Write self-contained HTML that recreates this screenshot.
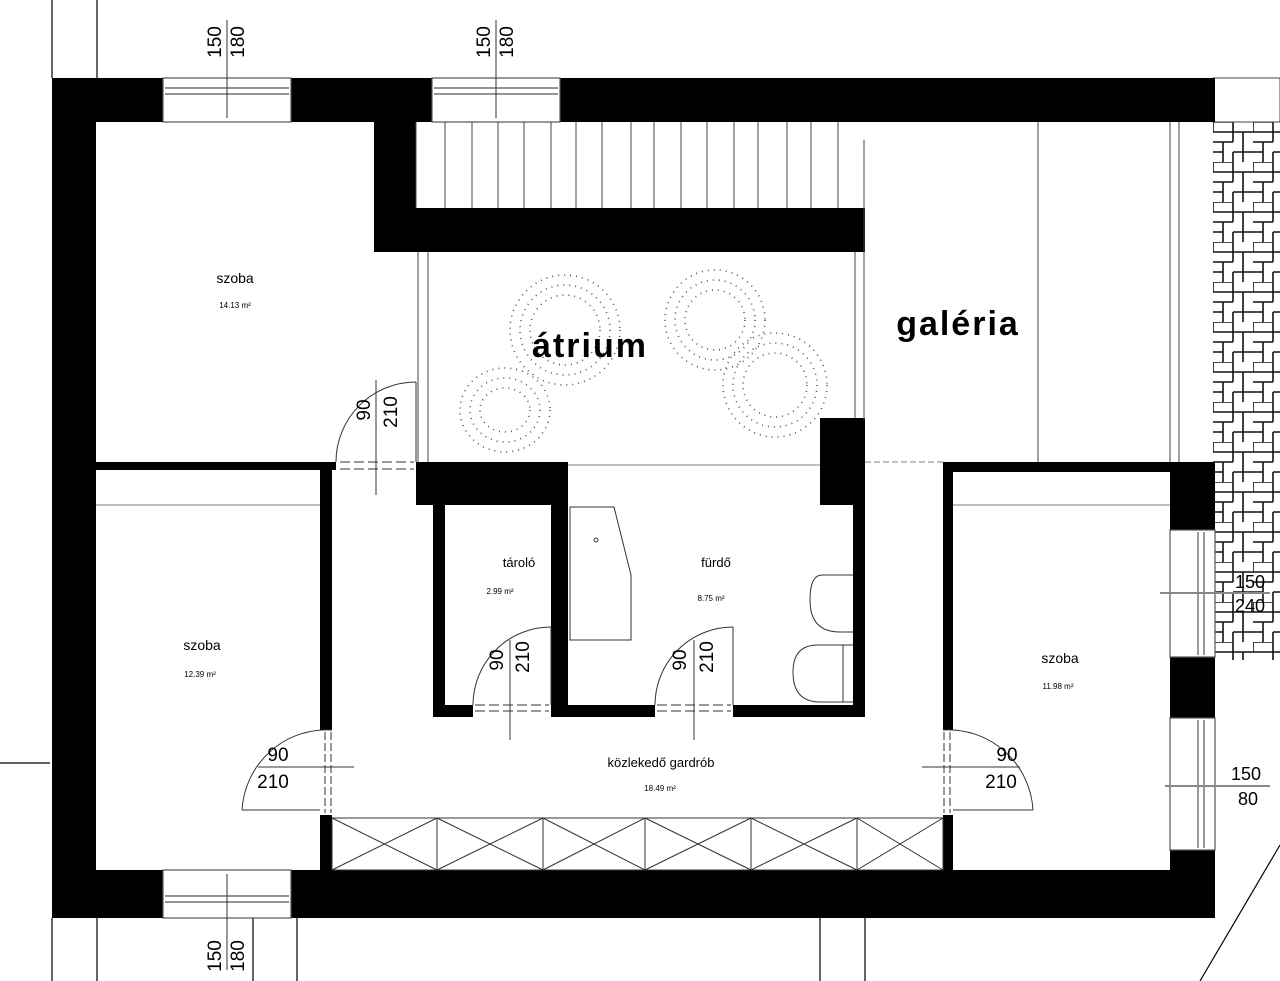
<!DOCTYPE html>
<html><head><meta charset="utf-8"><style>
html,body{margin:0;padding:0;background:#fff;}
svg{display:block;}
text{font-family:"Liberation Sans",sans-serif;fill:#000;}
</style></head><body>
<svg width="1280" height="981" viewBox="0 0 1280 981" xmlns="http://www.w3.org/2000/svg">
<defs>
<pattern id="brick" x="1213" y="122" width="40" height="40" patternUnits="userSpaceOnUse">
<rect width="40" height="40" fill="#fff"/>
<path d="M0 0H20V10H0ZM20 0V20M20 10H40M30 10V30H40M0 20H20M10 20V40M20 30H30M0 30H10M20 30V40M30 30V40" fill="none" stroke="#111" stroke-width="1.6"/>
</pattern>
</defs>
<g stroke="#000" stroke-width="1.2" fill="none">
<line x1="52" y1="0" x2="52" y2="78"/><line x1="97" y1="0" x2="97" y2="78"/>
<line x1="52" y1="918" x2="52" y2="981"/><line x1="97" y1="918" x2="97" y2="981"/>
<line x1="253" y1="918" x2="253" y2="981"/><line x1="297" y1="918" x2="297" y2="981"/>
<line x1="820" y1="918" x2="820" y2="981"/><line x1="865" y1="918" x2="865" y2="981"/>
<line x1="1280" y1="845" x2="1200" y2="981"/>
<line x1="0" y1="763" x2="50" y2="763"/>
</g>
<rect x="1213" y="122" width="67" height="538" fill="url(#brick)"/>
<rect x="1213" y="78" width="67" height="44" fill="#fff" stroke="#444" stroke-width="1"/>
<g fill="#000">
<rect x="52" y="78" width="44" height="840"/>
<rect x="52" y="78" width="111" height="44"/>
<rect x="291" y="78" width="141" height="44"/>
<rect x="560" y="78" width="655" height="44"/>
<rect x="374" y="122" width="42" height="130"/>
<rect x="374" y="208" width="491" height="44"/>
<rect x="820" y="418" width="45" height="87"/>
<rect x="96" y="462" width="240" height="8"/>
<rect x="416" y="462" width="152" height="43"/>
<rect x="320" y="470" width="12" height="260"/>
<rect x="320" y="815" width="12" height="55"/>
<rect x="433" y="505" width="12" height="212"/>
<rect x="551" y="505" width="17" height="212"/>
<rect x="853" y="505" width="12" height="212"/>
<rect x="433" y="705" width="40" height="12"/>
<rect x="551" y="705" width="104" height="12"/>
<rect x="733" y="705" width="132" height="12"/>
<rect x="943" y="462" width="272" height="10"/>
<rect x="943" y="462" width="10" height="268"/>
<rect x="943" y="815" width="10" height="55"/>
<rect x="1170" y="462" width="45" height="68"/>
<rect x="1170" y="657" width="45" height="61"/>
<rect x="1170" y="850" width="45" height="68"/>
<rect x="52" y="870" width="111" height="48"/>
<rect x="291" y="870" width="924" height="48"/>
</g>
<g stroke="#555" stroke-width="1.2" fill="#fff">
<rect x="163" y="78" width="128" height="44"/>
<line x1="165" y1="88" x2="289" y2="88"/><line x1="165" y1="94" x2="289" y2="94"/>
<rect x="432" y="78" width="128" height="44"/>
<line x1="434" y1="88" x2="558" y2="88"/><line x1="434" y1="94" x2="558" y2="94"/>
<rect x="163" y="870" width="128" height="48"/>
<line x1="165" y1="896" x2="289" y2="896"/><line x1="165" y1="902" x2="289" y2="902"/>
<rect x="1170" y="530" width="45" height="127"/>
<line x1="1198" y1="532" x2="1198" y2="655"/><line x1="1204" y1="532" x2="1204" y2="655"/>
<rect x="1170" y="718" width="45" height="132"/>
<line x1="1198" y1="720" x2="1198" y2="848"/><line x1="1204" y1="720" x2="1204" y2="848"/>
</g>
<g stroke="#333" stroke-width="1">
<line x1="227" y1="20" x2="227" y2="118"/><line x1="496" y1="20" x2="496" y2="118"/>
<line x1="227" y1="874" x2="227" y2="970"/>
</g>
<g stroke="#444" stroke-width="1">
<line x1="416" y1="122" x2="416" y2="208"/>
<line x1="445" y1="122" x2="445" y2="208"/><line x1="472" y1="122" x2="472" y2="208"/><line x1="498" y1="122" x2="498" y2="208"/><line x1="524" y1="122" x2="524" y2="208"/><line x1="551" y1="122" x2="551" y2="208"/><line x1="576" y1="122" x2="576" y2="208"/><line x1="602" y1="122" x2="602" y2="208"/><line x1="631" y1="122" x2="631" y2="208"/><line x1="654" y1="122" x2="654" y2="208"/><line x1="681" y1="122" x2="681" y2="208"/><line x1="707" y1="122" x2="707" y2="208"/><line x1="734" y1="122" x2="734" y2="208"/><line x1="758" y1="122" x2="758" y2="208"/><line x1="787" y1="122" x2="787" y2="208"/><line x1="811" y1="122" x2="811" y2="208"/><line x1="838" y1="122" x2="838" y2="208"/>
<line x1="864" y1="140" x2="864" y2="420"/>
<line x1="418" y1="252" x2="418" y2="462"/><line x1="428" y1="252" x2="428" y2="462"/>
<line x1="855" y1="252" x2="855" y2="418"/>
<line x1="1038" y1="122" x2="1038" y2="462"/>
<line x1="1170" y1="122" x2="1170" y2="462"/><line x1="1179" y1="122" x2="1179" y2="462"/>
</g>
<g stroke="#aaa" stroke-width="1.5">
<line x1="96" y1="505" x2="320" y2="505"/><line x1="865" y1="462" x2="943" y2="462" stroke-dasharray="6 3"/>
<line x1="568" y1="465" x2="820" y2="465"/>
<line x1="953" y1="505" x2="1170" y2="505"/>
</g>
<g fill="none" stroke="#555" stroke-width="1.6" stroke-dasharray="1 5">
<ellipse cx="505" cy="410" rx="45" ry="42"/><ellipse cx="505" cy="410" rx="35" ry="32"/><ellipse cx="505" cy="410" rx="25" ry="22"/>
<ellipse cx="565" cy="330" rx="55" ry="55"/><ellipse cx="565" cy="330" rx="45" ry="45"/><ellipse cx="565" cy="330" rx="35" ry="35"/>
<ellipse cx="715" cy="320" rx="50" ry="50"/><ellipse cx="715" cy="320" rx="40" ry="40"/><ellipse cx="715" cy="320" rx="30" ry="30"/>
<ellipse cx="775" cy="385" rx="52" ry="52"/><ellipse cx="775" cy="385" rx="42" ry="42"/><ellipse cx="775" cy="385" rx="32" ry="32"/>
</g>
<g fill="none" stroke="#333" stroke-width="1">
<path d="M336 462 A80 80 0 0 1 416 382"/><line x1="416" y1="382" x2="416" y2="462"/>
<line x1="376" y1="380" x2="376" y2="495"/>
<line x1="340" y1="462" x2="414" y2="462" stroke-dasharray="10 4"/><line x1="340" y1="469" x2="414" y2="469" stroke-dasharray="10 4"/>
<path d="M473 705 A78 78 0 0 1 551 627"/><line x1="551" y1="627" x2="551" y2="705"/><line x1="510" y1="640" x2="510" y2="740"/>
<line x1="475" y1="705" x2="549" y2="705" stroke-dasharray="10 4"/><line x1="475" y1="711" x2="549" y2="711" stroke-dasharray="10 4"/>
<path d="M655 705 A78 78 0 0 1 733 627"/><line x1="733" y1="627" x2="733" y2="705"/><line x1="694" y1="640" x2="694" y2="740"/>
<line x1="657" y1="705" x2="731" y2="705" stroke-dasharray="10 4"/><line x1="657" y1="711" x2="731" y2="711" stroke-dasharray="10 4"/>
<path d="M332 730 A85 85 0 0 0 242 810"/><line x1="242" y1="810" x2="320" y2="810"/>
<line x1="325" y1="732" x2="325" y2="813" stroke-dasharray="8 3"/><line x1="331" y1="732" x2="331" y2="813" stroke-dasharray="8 3"/>
<line x1="258" y1="767" x2="354" y2="767"/>
<path d="M943 730 A85 85 0 0 1 1033 810"/><line x1="953" y1="810" x2="1033" y2="810"/>
<line x1="944" y1="732" x2="944" y2="813" stroke-dasharray="8 3"/><line x1="950" y1="732" x2="950" y2="813" stroke-dasharray="8 3"/>
<line x1="922" y1="767" x2="1020" y2="767"/>
<line x1="1160" y1="593" x2="1270" y2="593" stroke="#888" stroke-width="2"/>
<line x1="1165" y1="786" x2="1270" y2="786" stroke="#888" stroke-width="2"/>
<path d="M570 507 L614 507 L631 575 L631 640 L570 640 Z"/>
<circle cx="596" cy="540" r="2"/>
<path d="M853 575 L822 575 Q810 575 810 600 Q810 632 840 632 L853 632"/>
<path d="M853 645 L818 645 Q793 645 793 672 Q793 702 820 702 L853 702"/>
<line x1="843" y1="645" x2="843" y2="702"/>
<rect x="332" y="818" width="611" height="52"/>
<path d="M437 818V870M543 818V870M645 818V870M751 818V870M857 818V870"/>
<path d="M332 818L437 870M437 818L332 870M437 818L543 870M543 818L437 870M543 818L645 870M645 818L543 870M645 818L751 870M751 818L645 870M751 818L857 870M857 818L751 870M857 818L943 870M943 818L857 870"/>
</g>
<g text-anchor="middle">
<text x="235" y="283" font-size="14">szoba</text>
<text x="235" y="308" font-size="8">14.13 m²</text>
<text x="590" y="357" font-size="34" font-weight="bold" letter-spacing="2">átrium</text>
<text x="958" y="335" font-size="34" font-weight="bold" letter-spacing="2">galéria</text>
<text x="519" y="567" font-size="13">tároló</text>
<text x="500" y="594" font-size="8">2.99 m²</text>
<text x="716" y="567" font-size="13">fürdő</text>
<text x="711" y="601" font-size="8">8.75 m²</text>
<text x="202" y="650" font-size="14">szoba</text>
<text x="200" y="677" font-size="8">12.39 m²</text>
<text x="1060" y="663" font-size="14">szoba</text>
<text x="1058" y="689" font-size="8">11.98 m²</text>
<text x="661" y="767" font-size="13">közlekedő gardrób</text>
<text x="660" y="791" font-size="8">18.49 m²</text>
<text x="278" y="761" font-size="19">90</text>
<text x="273" y="788" font-size="19">210</text>
<text x="1007" y="761" font-size="19">90</text>
<text x="1001" y="788" font-size="19">210</text>
<text x="1250" y="588" font-size="18">150</text>
<text x="1250" y="612" font-size="18">240</text>
<text x="1246" y="780" font-size="18">150</text>
<text x="1248" y="805" font-size="18">80</text>
</g>
<g font-size="19" text-anchor="middle">
<text transform="translate(221,42) rotate(-90)">150</text>
<text transform="translate(244,42) rotate(-90)">180</text>
<text transform="translate(490,42) rotate(-90)">150</text>
<text transform="translate(513,42) rotate(-90)">180</text>
<text transform="translate(221,956) rotate(-90)">150</text>
<text transform="translate(244,956) rotate(-90)">180</text>
<text transform="translate(370,410) rotate(-90)">90</text>
<text transform="translate(397,412) rotate(-90)">210</text>
<text transform="translate(503,660) rotate(-90)">90</text>
<text transform="translate(529,657) rotate(-90)">210</text>
<text transform="translate(686,660) rotate(-90)">90</text>
<text transform="translate(713,657) rotate(-90)">210</text>
</g>
</svg>
</body></html>
